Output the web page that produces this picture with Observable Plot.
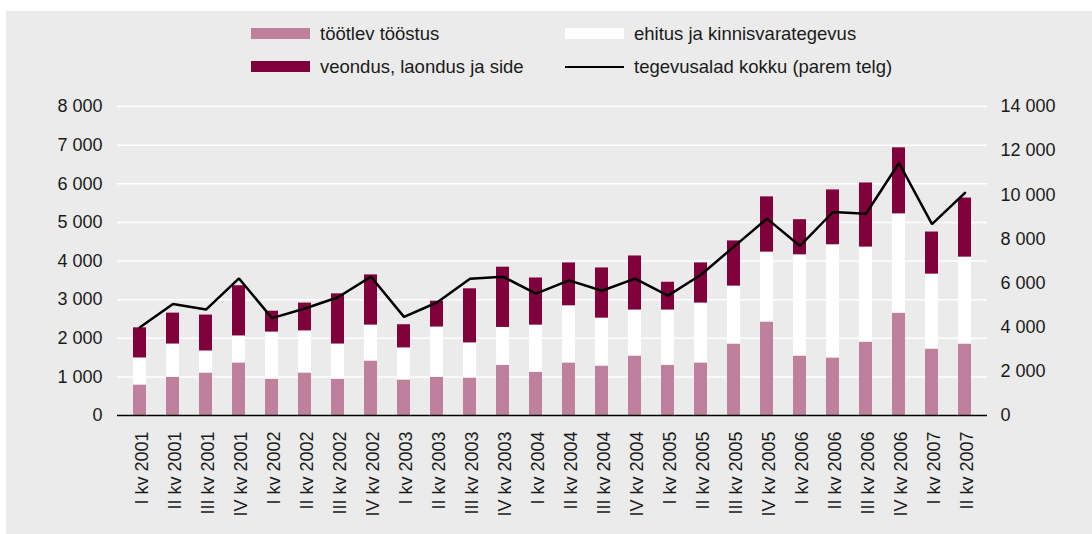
<!DOCTYPE html>
<html>
<head>
<meta charset="utf-8">
<script src="https://cdn.jsdelivr.net/npm/d3@7"></script>
<script src="https://cdn.jsdelivr.net/npm/@observablehq/plot@0.6"></script>
<style>
  html, body { margin: 0; padding: 0; background: #ffffff; }
  body { width: 1092px; height: 534px; position: relative; overflow: hidden; font-family: "Liberation Sans", Arial, sans-serif; color: #1a1a1a; }
  #panel { position: absolute; left: 6px; top: 11px; width: 1086px; height: 523px; background: #ebebeb; }
  #chart { position: absolute; left: 0; top: 0; }
  .lg { position: absolute; font-size: 18.5px; line-height: 20px; white-space: nowrap; }
  .sw { position: absolute; width: 59px; height: 11px; }
  .ln { position: absolute; width: 59px; height: 0; border-top: 2.5px solid #000; }
</style>
</head>
<body>
<div id="panel">
  <div id="chart"></div>
  <div class="sw" style="left:245px; top:17px; background:#bf809e"></div>
  <div class="lg" style="left:314px; top:13px">töötlev tööstus</div>
  <div class="sw" style="left:559px; top:17px; background:#ffffff"></div>
  <div class="lg" style="left:628px; top:13px">ehitus ja kinnisvarategevus</div>
  <div class="sw" style="left:245px; top:50px; background:#80003c"></div>
  <div class="lg" style="left:314px; top:46px">veondus, laondus ja side</div>
  <div class="ln" style="left:559px; top:55px"></div>
  <div class="lg" style="left:628px; top:46px">tegevusalad kokku (parem telg)</div>
</div>
<script>
const quarters = [
  "I kv 2001","II kv 2001","III kv 2001","IV kv 2001",
  "I kv 2002","II kv 2002","III kv 2002","IV kv 2002",
  "I kv 2003","II kv 2003","III kv 2003","IV kv 2003",
  "I kv 2004","II kv 2004","III kv 2004","IV kv 2004",
  "I kv 2005","II kv 2005","III kv 2005","IV kv 2005",
  "I kv 2006","II kv 2006","III kv 2006","IV kv 2006",
  "I kv 2007","II kv 2007"
];
const seriesNames = ["töötlev tööstus", "ehitus ja kinnisvarategevus", "veondus, laondus ja side"];
const seriesColors = ["#bf809e", "#ffffff", "#80003c"];
const manufacturing = [790,990,1100,1360,940,1100,940,1410,920,990,970,1300,1120,1360,1280,1540,1300,1360,1850,2420,1540,1490,1900,2650,1720,1850];
const construction  = [700,860,570,700,1220,1090,910,930,830,1300,910,980,1220,1480,1240,1190,1430,1550,1500,1810,2620,2930,2460,2570,1940,2250];
const transport     = [780,800,930,1300,540,720,1300,1300,600,670,1400,1560,1220,1110,1300,1400,720,1040,1170,1430,910,1420,1660,1710,1090,1530];
const totalAll      = [4000,5050,4800,6210,4410,4850,5360,6290,4470,5120,6200,6290,5520,6120,5650,6200,5430,6380,7650,8920,7680,9220,9140,11440,8670,10090];
const leftTicks  = [0,1000,2000,3000,4000,5000,6000,7000,8000];
const rightTicks = [0,2000,4000,6000,8000,10000,12000,14000];
const ratio = 14000 / 8000;

const fmt = v => String(Math.round(v)).replace(/\B(?=(\d{3})+(?!\d))/g, " ");

const stacked = [];
quarters.forEach((q, i) => {
  stacked.push({q, s: seriesNames[0], v: manufacturing[i]});
  stacked.push({q, s: seriesNames[1], v: construction[i]});
  stacked.push({q, s: seriesNames[2], v: transport[i]});
});
const lineData = quarters.map((q, i) => ({q, t: totalAll[i]}));

const chart = Plot.plot({
  width: 1086,
  height: 523,
  marginLeft: 111,
  marginRight: 105,
  marginTop: 95,
  marginBottom: 119,
  style: {background: "transparent", fontSize: "18px", fontFamily: "'Liberation Sans', Arial, sans-serif", color: "#1a1a1a"},
  x: {type: "band", domain: quarters, paddingInner: 0.61, paddingOuter: 0.305, axis: null},
  y: {domain: [0, 8000], axis: null},
  color: {domain: seriesNames, range: seriesColors},
  marks: [
    Plot.ruleY(leftTicks.filter(d => d > 0), {stroke: "#ffffff", strokeWidth: 1.5}),
    Plot.barY(stacked, Plot.stackY({x: "q", y: "v", fill: "s", order: seriesNames})),
    Plot.ruleY([0], {stroke: "#000000", strokeWidth: 1.6}),
    Plot.line(lineData, {x: "q", y: d => d.t / ratio, stroke: "#000000", strokeWidth: 2.5, strokeLinejoin: "miter"}),
    Plot.axisY(leftTicks, {anchor: "left", label: null, tickSize: 0, tickPadding: 15, tickFormat: fmt, fill: "#1a1a1a"}),
    Plot.axisY(rightTicks.map(v => v / ratio), {anchor: "right", label: null, tickSize: 0, tickPadding: 13, tickFormat: d => fmt(d * ratio), fill: "#1a1a1a"}),
    Plot.text(quarters, {x: d => d, frameAnchor: "bottom", rotate: -90, textAnchor: "end", dy: 16, dx: 8, fill: "#1a1a1a", fontSize: 18})
  ]
});
document.getElementById("chart").appendChild(chart);
</script>
</body>
</html>
